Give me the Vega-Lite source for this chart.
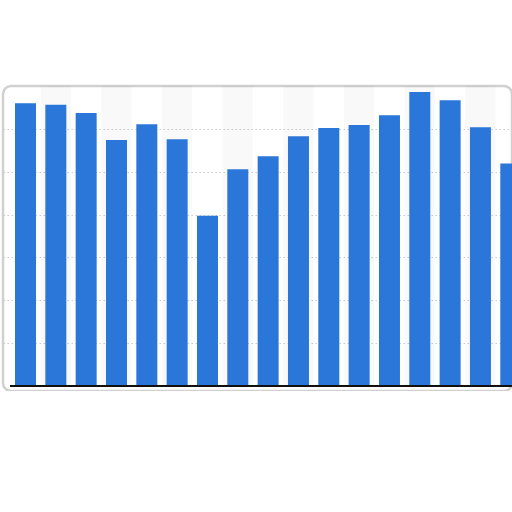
{
  "$schema": "https://vega.github.io/schema/vega-lite/v6.json",
  "width": 509,
  "height": 305,
  "autosize": "none",
  "padding": {"left": 3, "top": 86, "right": 0, "bottom": 0},
  "background": "white",
  "config": {
    "view": {"stroke": "#d0d0d0", "strokeWidth": 2.5, "cornerRadius": 8, "fill": "white"}
  },
  "data": {
    "values": [
      {"n": 1, "value": 6.60},
      {"n": 2, "value": 6.56},
      {"n": 3, "value": 6.37},
      {"n": 4, "value": 5.74},
      {"n": 5, "value": 6.11},
      {"n": 6, "value": 5.76},
      {"n": 7, "value": 3.97},
      {"n": 8, "value": 5.06},
      {"n": 9, "value": 5.36},
      {"n": 10, "value": 5.83},
      {"n": 11, "value": 6.02},
      {"n": 12, "value": 6.09},
      {"n": 13, "value": 6.32},
      {"n": 14, "value": 6.86},
      {"n": 15, "value": 6.67},
      {"n": 16, "value": 6.04},
      {"n": 17, "value": 5.19}
    ]
  },
  "layer": [
    {
      "mark": {"type": "bar", "width": 30.33, "clip": true},
      "encoding": {
        "x": {
          "field": "n", "type": "quantitative",
          "scale": {"domain": [0.258, 17.04], "nice": false, "zero": false, "padding": 0},
          "axis": null
        },
        "y": {
          "datum": 7, "type": "quantitative",
          "scale": {"domain": [-0.1167, 7], "nice": false, "zero": false, "padding": 0},
          "axis": {
            "grid": true, "values": [1, 2, 3, 4, 5, 6],
            "labels": false, "ticks": false, "domain": false, "title": null,
            "gridColor": "#cccccc", "gridDash": [1.5, 2.5]
          }
        },
        "y2": {"datum": 0},
        "fill": {"condition": {"test": "datum.n % 2 == 0", "value": "#000000"}, "value": "transparent"},
        "fillOpacity": {"value": 0.022}
      }
    },
    {
      "mark": {"type": "bar", "width": 21, "clip": true, "color": "#2a77d9"},
      "encoding": {
        "x": {"field": "n", "type": "quantitative"},
        "y": {"field": "value", "type": "quantitative"},
        "y2": {"datum": 0}
      }
    },
    {
      "mark": {"type": "rule", "color": "#111111", "strokeWidth": 1.5, "clip": true},
      "encoding": {
        "y": {"datum": 0, "type": "quantitative"},
        "x": {"datum": 0.49, "type": "quantitative"},
        "x2": {"datum": 17.5}
      }
    }
  ]
}
